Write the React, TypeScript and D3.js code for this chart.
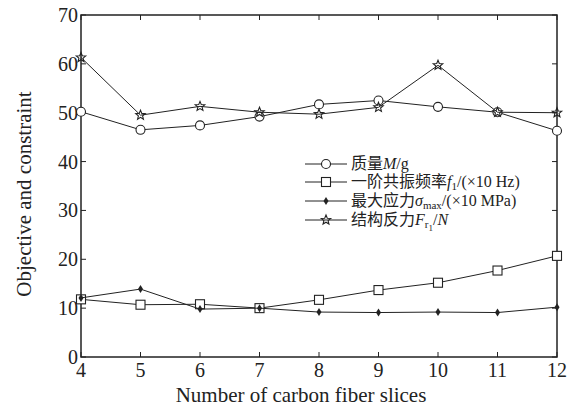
import React from "react";
import * as d3 from "d3";

const slices = [4, 5, 6, 7, 8, 9, 10, 11, 12];
const massValues = [50.2, 46.5, 47.4, 49.2, 51.7, 52.5, 51.2, 50.1, 46.3];
const freqValues = [11.8, 10.7, 10.8, 10.0, 11.7, 13.7, 15.2, 17.7, 20.7];
const stressValues = [12.1, 13.9, 9.8, 10.0, 9.2, 9.1, 9.2, 9.1, 10.2];
const forceValues = [61.3, 49.5, 51.3, 50.1, 49.7, 51.1, 59.7, 50.1, 50.0];
const yTicks = [0, 10, 20, 30, 40, 50, 60, 70];

const W = 574, H = 410;
const L = 81, R = 557, T = 15, B = 357;
const serif = "'Liberation Serif', 'Times New Roman', serif";
const cjk = "'Noto Sans CJK SC', sans-serif";
const ink = "#222";

type Kind = "circle" | "square" | "diamond" | "star";

function Marker({ kind, x, y }: { kind: Kind; x: number; y: number }) {
  if (kind === "circle") return <circle cx={x} cy={y} r={4.5} fill="white" stroke={ink} strokeWidth={1.1} />;
  if (kind === "square") return <rect x={x - 4.5} y={y - 4.5} width={9} height={9} fill="white" stroke={ink} strokeWidth={1.1} />;
  if (kind === "diamond") return <path d={`M${x},${y - 4}L${x + 2.5},${y}L${x},${y + 4}L${x - 2.5},${y}Z`} fill={ink} />;
  const pts: [number, number][] = [];
  for (let i = 0; i < 10; i++) {
    const a = -Math.PI / 2 + (i * Math.PI) / 5;
    const r = i % 2 === 0 ? 5 : 2.2;
    pts.push([x + r * Math.cos(a), y + r * Math.sin(a)]);
  }
  return <path d={d3.line()(pts) + "Z"} fill="none" stroke={ink} strokeWidth={1.1} />;
}

export default function App() {
  const x = d3.scaleLinear().domain([4, 12]).range([L, R]);
  const y = d3.scaleLinear().domain([0, 70]).range([B, T]);
  const line = d3.line<number>().x((_, i) => x(slices[i])).y((d) => y(d));
  const series: { vals: number[]; kind: Kind }[] = [
    { vals: massValues, kind: "circle" },
    { vals: freqValues, kind: "square" },
    { vals: stressValues, kind: "diamond" },
    { vals: forceValues, kind: "star" },
  ];
  const legendY = [164, 182, 201, 220];
  const fs = 16;
  return (
    <svg width={W} height={H} style={{ position: "absolute", left: 0, top: 0, background: "white" }}>
      <rect x={0} y={0} width={W} height={H} fill="white" />
      {yTicks.map((t) => (
        <g key={"y" + t}>
          <line x1={L} x2={L + 5} y1={y(t)} y2={y(t)} stroke={ink} strokeWidth={1} />
          <line x1={R} x2={R - 5} y1={y(t)} y2={y(t)} stroke={ink} strokeWidth={1} />
          <text x={L - 3} y={y(t) + 7} textAnchor="end" fontFamily={serif} fontSize={20} fill={ink}>{t}</text>
        </g>
      ))}
      {slices.map((s) => (
        <g key={"x" + s}>
          <line x1={x(s)} x2={x(s)} y1={B} y2={B - 5} stroke={ink} strokeWidth={1} />
          <line x1={x(s)} x2={x(s)} y1={T} y2={T + 5} stroke={ink} strokeWidth={1} />
          <text x={x(s)} y={B + 20} textAnchor="middle" fontFamily={serif} fontSize={20} fill={ink}>{s}</text>
        </g>
      ))}
      <rect x={L} y={T} width={R - L} height={B - T} fill="none" stroke={ink} strokeWidth={1.5} />
      {series.map((s, si) => (
        <g key={si}>
          <path d={line(s.vals) || ""} fill="none" stroke={ink} strokeWidth={1} />
          {s.vals.map((v, i) => <Marker key={i} kind={s.kind} x={x(slices[i])} y={y(v)} />)}
        </g>
      ))}
      <text x={(L + R) / 2 - 18} y={402} textAnchor="middle" fontFamily={serif} fontSize={21} fill={ink}>Number of carbon fiber slices</text>
      <text transform={`translate(31,${(T + B) / 2 + 8}) rotate(-90)`} textAnchor="middle" fontFamily={serif} fontSize={21} fill={ink}>Objective and constraint</text>
      {series.map((s, i) => (
        <g key={"lg" + i}>
          <line x1={305} x2={347} y1={legendY[i]} y2={legendY[i]} stroke={ink} strokeWidth={1} />
          <Marker kind={s.kind} x={326} y={legendY[i]} />
        </g>
      ))}
      <text x={351} y={legendY[0] + 5} fontSize={fs} fill={ink}>
        <tspan fontFamily={cjk}>质量</tspan>
        <tspan fontFamily={serif} fontStyle="italic">M</tspan>
        <tspan fontFamily={serif}>/g</tspan>
      </text>
      <text x={351} y={legendY[1] + 5} fontSize={fs} fill={ink}>
        <tspan fontFamily={cjk}>一阶共振频率</tspan>
        <tspan fontFamily={serif} fontStyle="italic">f</tspan>
        <tspan fontFamily={serif} fontSize={11} dy={3}>1</tspan>
        <tspan fontFamily={serif} dy={-3}>/(×10 Hz)</tspan>
      </text>
      <text x={351} y={legendY[2] + 5} fontSize={fs} fill={ink}>
        <tspan fontFamily={cjk}>最大应力</tspan>
        <tspan fontFamily={serif} fontStyle="italic">σ</tspan>
        <tspan fontFamily={serif} fontSize={11} dy={3}>max</tspan>
        <tspan fontFamily={serif} dy={-3}>/(×10 MPa)</tspan>
      </text>
      <text x={351} y={legendY[3] + 5} fontSize={fs} fill={ink}>
        <tspan fontFamily={cjk}>结构反力</tspan>
        <tspan fontFamily={serif} fontStyle="italic">F</tspan>
        <tspan fontFamily={serif} fontSize={11} dy={3}>r</tspan>
        <tspan fontFamily={serif} fontSize={9} dy={3}>1</tspan>
        <tspan fontFamily={serif} dy={-6}>/</tspan>
        <tspan fontFamily={serif} fontStyle="italic">N</tspan>
      </text>
    </svg>
  );
}
